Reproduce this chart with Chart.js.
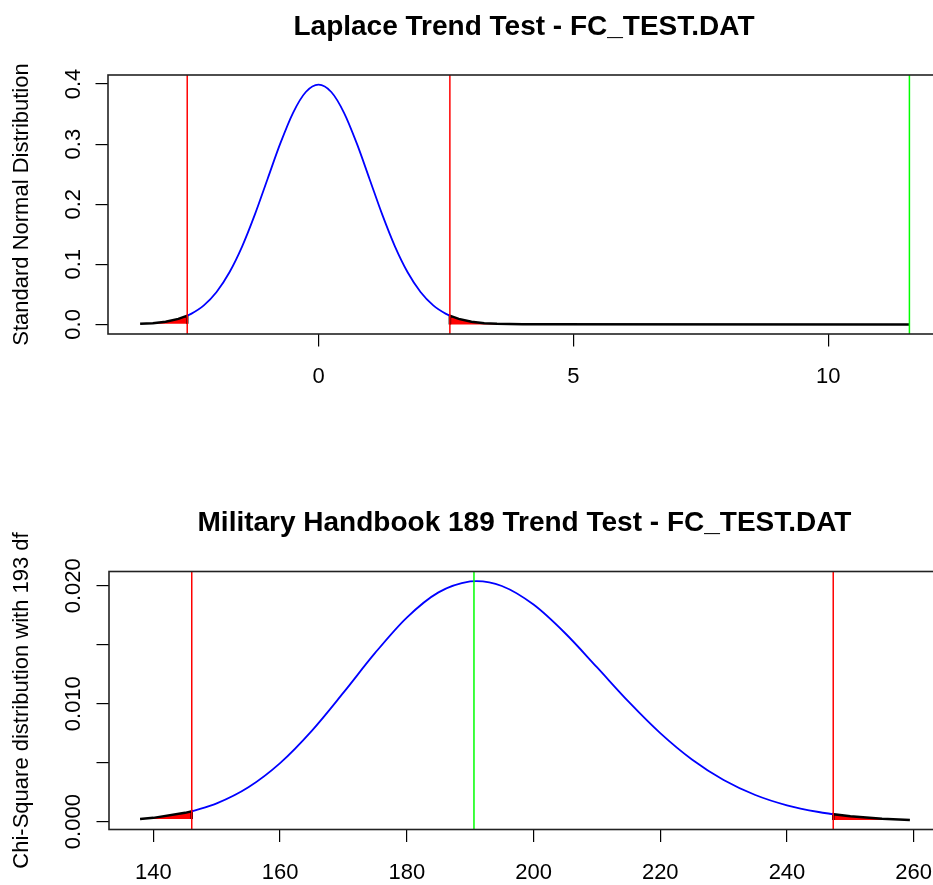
<!DOCTYPE html>
<html>
<head>
<meta charset="utf-8">
<title>Trend Tests - FC_TEST.DAT</title>
<script src="https://cdn.jsdelivr.net/npm/chart.js@4.4.1/dist/chart.umd.min.js"></script>
<style>
  html, body { margin: 0; padding: 0; background: #fff; overflow: hidden; }
  canvas { position: absolute; left: 0; }
  #laplaceChart { top: 0; }
  #milChart { top: 442px; }
</style>
</head>
<body>
<canvas id="laplaceChart" width="950" height="442"></canvas>
<canvas id="milChart" width="950" height="443"></canvas>
<script>
// ---------------- data ----------------

// Laplace test: standard normal density
const normX = [-3.5, -3.25, -3, -2.75, -2.576, -2.5, -2.25, -2, -1.75, -1.5, -1.25, -1, -0.75, -0.5, -0.25, 0,
  0.25, 0.5, 0.75, 1, 1.25, 1.5, 1.75, 2, 2.25, 2.5, 2.576, 2.75, 3, 3.25, 3.5, 4, 11.59];
const normY = [0.0009, 0.0020, 0.0044, 0.0091, 0.0145, 0.0175, 0.0317, 0.0540, 0.0863, 0.1295, 0.1826, 0.2420, 0.3011, 0.3521, 0.3867, 0.3989,
  0.3867, 0.3521, 0.3011, 0.2420, 0.1826, 0.1295, 0.0863, 0.0540, 0.0317, 0.0175, 0.0145, 0.0091, 0.0044, 0.0020, 0.0009, 0.0001, 0.0000];
const normCrit = [-2.576, 2.576];
const laplaceStat = 11.59;
const normXTicks = [0, 5, 10];
const normYTicks = [0, 0.1, 0.2, 0.3, 0.4];
const normYTickLabels = ['0.0', '0.1', '0.2', '0.3', '0.4'];

// MIL-HDBK-189 test: chi-square density, 193 df
const chiX = [137.9, 140, 145, 146.06, 150, 155, 160, 165, 170, 175, 180, 185, 190, 191, 195, 200, 205, 210,
  215, 220, 225, 230, 235, 240, 245, 247.3, 250, 255, 259.4];
const chiY = [0.000215, 0.000317, 0.000742, 0.000876, 0.001551, 0.002917, 0.004964, 0.007700, 0.010936, 0.014303,
  0.017302, 0.019440, 0.020372, 0.020400, 0.019983, 0.018405, 0.015972, 0.013094, 0.010169, 0.007500, 0.005265,
  0.003526, 0.002257, 0.001383, 0.000814, 0.000629, 0.000460, 0.000250, 0.000142];
const chiCrit = [146.06, 247.3];
const milStat = 190.6;
const chiXTicks = [140, 160, 180, 200, 220, 240, 260];
const chiYTicks = [0, 0.005, 0.010, 0.015, 0.020];
const chiYTickLabels = ['0.000', '', '0.010', '', '0.020'];

// ---------------- helpers ----------------

const FONT = "'Liberation Sans', Arial, Helvetica, sans-serif";

function points(xs, ys, keep) {
  return xs.map((x, i) => ({ x: x, y: ys[i] })).filter(p => keep(p.x));
}

function vline(x, y0, y1, color) {
  return {
    data: [{ x: x, y: y0 }, { x: x, y: y1 }],
    borderColor: color,
    borderWidth: 1.5,
    fill: false,
    order: 0,
  };
}

// box round the plot region, like R's box()
const boxPlugin = {
  id: 'box',
  afterDatasetsDraw(chart) {
    const a = chart.chartArea;
    const ctx = chart.ctx;
    ctx.save();
    ctx.strokeStyle = '#222';
    ctx.lineWidth = 1.6;
    ctx.strokeRect(a.left, a.top, a.right - a.left, a.bottom - a.top);
    ctx.restore();
  },
};

function trendChart(id, o) {
  const lo = o.crit[0];
  const hi = o.crit[1];
  const n = o.xs.length;
  const axisGrid = { drawOnChartArea: false, tickLength: 12.5, color: '#000', lineWidth: 1.2 };
  const tickFont = { family: FONT, size: 22 };

  new Chart(document.getElementById(id), {
    type: 'line',
    data: {
      datasets: [
        vline(lo, o.yMin, o.yMax, '#FF0000'),
        vline(hi, o.yMin, o.yMax, '#FF0000'),
        vline(o.stat, o.yMin, o.yMax, '#00FF00'),
        {
          data: points(o.xs, o.ys, x => x >= lo && x <= hi),
          borderColor: '#0000FF',
          borderWidth: 1.8,
          cubicInterpolationMode: 'monotone',
          fill: false,
          order: 1,
        },
        {
          data: points(o.xs, o.ys, x => x <= lo).concat([{ x: lo, y: o.ys[0] }]),
          borderColor: '#000',
          backgroundColor: '#FF0000',
          borderWidth: 2.5,
          fill: { value: o.ys[0] },
          order: 2,
        },
        {
          data: [{ x: hi, y: o.ys[n - 1] }].concat(points(o.xs, o.ys, x => x >= hi)),
          borderColor: '#000',
          backgroundColor: '#FF0000',
          borderWidth: 2.5,
          fill: { value: o.ys[n - 1] },
          order: 2,
        },
      ],
    },
    options: {
      responsive: false,
      animation: false,
      layout: { padding: { left: 0, right: 10, top: 0, bottom: 0 } },
      elements: { point: { radius: 0 }, line: { tension: 0 } },
      plugins: {
        legend: { display: false },
        tooltip: { enabled: false },
        title: {
          display: true,
          text: o.title,
          fullSize: false,
          color: '#000',
          font: { family: FONT, size: 28, weight: 'bold' },
          padding: { top: o.titleTop, bottom: o.titleBottom },
        },
      },
      scales: {
        x: {
          type: 'linear',
          min: o.xMin,
          max: o.xMax,
          afterFit: s => { s.height = o.xAxisHeight; },
          afterBuildTicks: s => { s.ticks = o.xTicks.map(v => ({ value: v })); },
          grid: axisGrid,
          border: { display: false },
          ticks: {
            color: '#000',
            font: tickFont,
            padding: 17.5,
            maxRotation: 0,
            autoSkip: false,
            callback: v => String(v),
          },
        },
        y: {
          type: 'linear',
          min: o.yMin,
          max: o.yMax,
          afterFit: s => { s.width = o.yAxisWidth; },
          afterBuildTicks: s => { s.ticks = o.yTicks.map(v => ({ value: v })); },
          grid: axisGrid,
          border: { display: false },
          ticks: {
            color: '#000',
            font: tickFont,
            minRotation: 90,
            maxRotation: 90,
            crossAlign: 'center',
            padding: o.yPad,
            autoSkip: false,
            callback: (v, i) => o.yLabels[i],
          },
          title: {
            display: true,
            text: o.yTitle,
            color: '#000',
            font: tickFont,
            padding: { top: 8.5, bottom: 0 },
          },
        },
      },
    },
    plugins: [boxPlugin],
  });
}

// ---------------- charts ----------------

trendChart('laplaceChart', {
  title: 'Laplace Trend Test - FC_TEST.DAT',
  yTitle: 'Standard Normal Distribution',
  xs: normX, ys: normY, crit: normCrit, stat: laplaceStat,
  xTicks: normXTicks, yTicks: normYTicks, yLabels: normYTickLabels,
  xMin: -4.13, xMax: 12.19, yMin: -0.016, yMax: 0.415,
  xAxisHeight: 108, yAxisWidth: 108, titleTop: 10.4, titleBottom: 31, yPad: 6.7,
});

trendChart('milChart', {
  title: 'Military Handbook 189 Trend Test - FC_TEST.DAT',
  yTitle: 'Chi-Square distribution with 193 df',
  xs: chiX, ys: chiY, crit: chiCrit, stat: milStat,
  xTicks: chiXTicks, yTicks: chiYTicks, yLabels: chiYTickLabels,
  xMin: 133.0, xMax: 264.15, yMin: -0.00067, yMax: 0.02121,
  xAxisHeight: 55.5, yAxisWidth: 109, titleTop: 64.7, titleBottom: 31.2, yPad: -4.5,
});
</script>
</body>
</html>
